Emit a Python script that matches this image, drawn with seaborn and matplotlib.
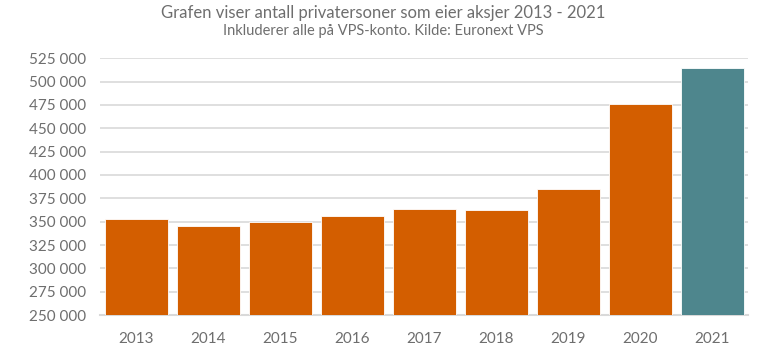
import seaborn as sns
import pandas as pd
import numpy as np
import matplotlib.pyplot as plt
from matplotlib.ticker import FuncFormatter

years = ['2013', '2014', '2015', '2016', '2017', '2018', '2019', '2020', '2021']
owners = [352500, 345500, 349500, 356500, 364000, 362300, 384500, 476000, 514500]
colors = ['#D35E00'] * 8 + ['#4E868D']

title = 'Grafen viser antall privatersoner som eier aksjer 2013 - 2021'
subtitle = 'Inkluderer alle på VPS-konto. Kilde: Euronext VPS'

sns.set_theme(style='white')
plt.rcParams['font.family'] = ['Lato', 'DejaVu Sans']
txt = '#6E6E6E'

df = pd.DataFrame({'year': years, 'owners': owners})

fig = plt.figure(figsize=(7.67, 3.59), dpi=100)
ax = fig.add_axes([0.130, 0.122, 0.845, 0.716])
sns.barplot(data=df, x='year', y='owners', hue='year', palette=colors,
            saturation=1, legend=False, width=0.87, edgecolor='#FFFFFF',
            linewidth=0.6, ax=ax, zorder=3)

ax.set_ylim(250000, 525000)
ax.set_yticks(np.arange(250000, 525001, 25000))
ax.yaxis.set_major_formatter(FuncFormatter(lambda v, p: f'{int(v):,}'.replace(',', ' ')))
ax.set_xlim(-0.51, 8.49)
ax.grid(axis='y', color='#D9D9D9', linewidth=1.2, zorder=0)
ax.set_axisbelow(True)
for s in ['top', 'right', 'left']:
    ax.spines[s].set_visible(False)
ax.spines['bottom'].set_color('#D9D9D9')
ax.spines['bottom'].set_linewidth(1.5)
ax.set_xlabel('')
ax.set_ylabel('')
ax.tick_params(axis='both', length=0, labelsize=11, colors=txt)
ax.tick_params(axis='x', pad=12)
ax.tick_params(axis='y', pad=10)

fig.text(0.5, 0.965, title, ha='center', va='center', fontsize=12, color=txt)
fig.text(0.5, 0.915, subtitle, ha='center', va='center', fontsize=10.5, color=txt)

fig.savefig('out.png', dpi=100)
